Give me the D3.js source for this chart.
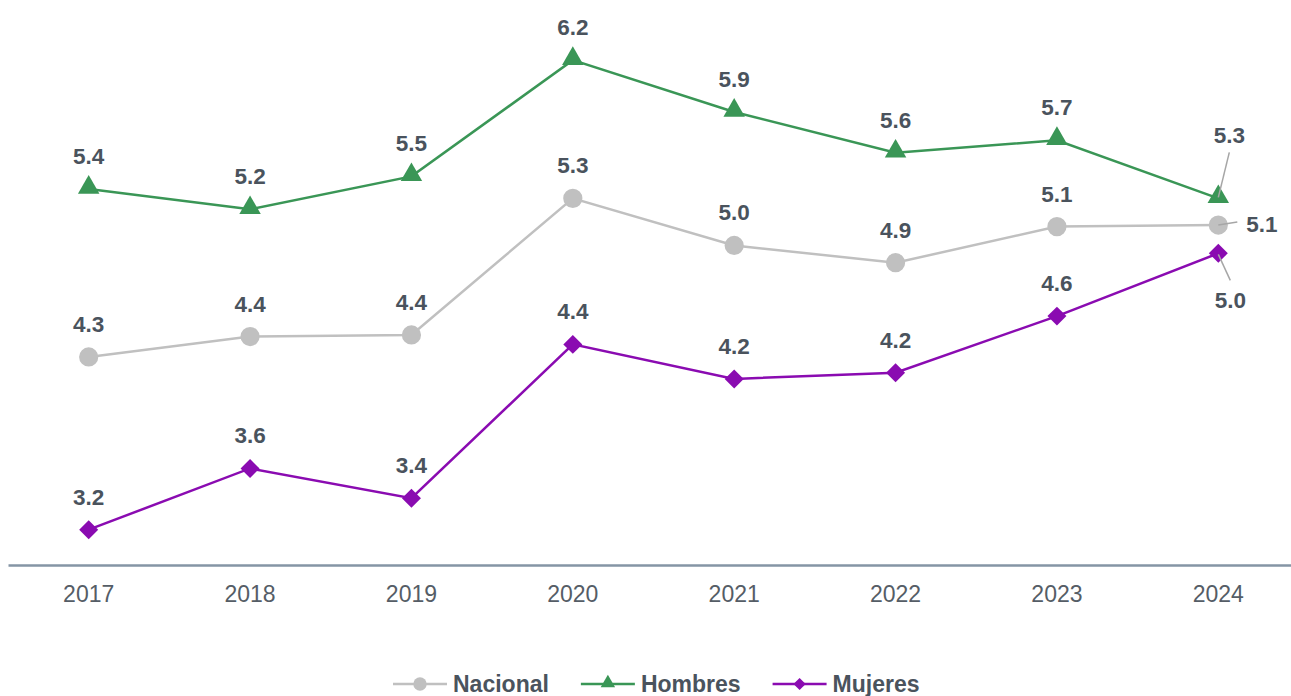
<!DOCTYPE html>
<html>
<head>
<meta charset="utf-8">
<script src="https://cdn.jsdelivr.net/npm/d3@7/dist/d3.min.js"></script>
<style>
	body { margin: 0; background: #fff; }
	svg { display: block; font-family: 'Liberation Sans', Arial, sans-serif; }
	.val-text { font-size: 22.5px; font-weight: bold; fill: #4a535d; }
	.year-axis text { font-size: 23px; fill: #555d66; }
	.year-axis path { stroke: #8595a5; stroke-width: 2.5px; }
	.legend-text { font-size: 23px; font-weight: bold; fill: #4a535d; }
	.leader { stroke: #a6a6a6; stroke-width: 1.5px; }
</style>
</head>
<body>
<div id="vis"></div>
<script>

var years = ['2017', '2018', '2019', '2020', '2021', '2022', '2023', '2024'];
var nacional = [4.30, 4.43, 4.44, 5.31, 5.01, 4.90, 5.13, 5.14];
var hombres = [5.37, 5.24, 5.45, 6.19, 5.86, 5.60, 5.68, 5.31];
var mujeres = [3.20, 3.59, 3.40, 4.38, 4.16, 4.20, 4.56, 4.96];
var seriesNames = ['Nacional', 'Hombres', 'Mujeres'];

var dim = { w: 1291, h: 696 };
var colors = { Nacional: '#c0c0c0', Hombres: '#3a9656', Mujeres: '#8a0bb1' };
// diamond = square turned 45 degrees
var shapes = { Nacional: d3.symbolCircle, Hombres: d3.symbolTriangle, Mujeres: d3.symbolSquare };
var rotate = { Nacional: 0, Hombres: 0, Mujeres: 45 };
var sizes = { Nacional: 290, Hombres: 200, Mujeres: 180 };
var legendSizes = { Nacional: 140, Hombres: 90, Mujeres: 75 };

// last point labels are pulled out with a leader line
var lastLabel = {
	Nacional: { x: 28, y: 7, anchor: 'start', lx1: 0, ly1: 0, lx2: 19, ly2: -3 },
	Hombres: { x: 11, y: -55, anchor: 'middle', lx1: 0, ly1: -1, lx2: 11, ly2: -46 },
	Mujeres: { x: 12, y: 55, anchor: 'middle', lx1: 0, ly1: 1, lx2: 12, ly2: 27 }
};

var series = [nacional, hombres, mujeres].map(function (vals, i) {
	return { name: seriesNames[i], values: vals.map(function (v, j) { return { year: years[j], v: v }; }) };
});

var svg = d3.select('#vis').append('svg')
	.attr('width', dim.w)
	.attr('height', dim.h);

var x = d3.scaleBand().domain(years).range([8, 1299]).padding(0);
var y = d3.scaleLinear().domain([2.975, 6.4]).range([565, 27.2]);
var cx = function (d) { return x(d.year) + x.bandwidth() / 2; };

//x axis
svg.append('g')
	.attr('class', 'year-axis')
	.attr('transform', 'translate(0,' + y(2.975) + ')')
	.call(d3.axisBottom(x).tickSize(0).tickSizeOuter(0).tickPadding(21))
	.call(function (g) { g.selectAll('text').attr('font-family', null).attr('font-size', null); });

var line = d3.line().x(cx).y(function (d) { return y(d.v); });

series.forEach(function (s) {
	svg.append('path')
		.datum(s.values)
		.attr('d', line)
		.attr('fill', 'none')
		.attr('stroke', colors[s.name])
		.attr('stroke-width', 2.5);
});

series.forEach(function (s) {
	var sym = d3.symbol().type(shapes[s.name]).size(sizes[s.name]);
	svg.selectAll('.dot-' + s.name)
		.data(s.values)
		.enter().append('path')
		.attr('class', 'dot-' + s.name)
		.attr('d', sym)
		.attr('fill', colors[s.name])
		.attr('transform', function (d) {
			// triangle centred on its box, not its centroid
			var dy = s.name === 'Hombres' ? -1.5 : 0;
			return 'translate(' + cx(d) + ',' + (y(d.v) + dy) + ') rotate(' + rotate[s.name] + ')';
		});
});

// value labels
series.forEach(function (s) {
	var n = s.values.length;
	s.values.forEach(function (d, i) {
		var px = cx(d), py = y(d.v);
		var text = svg.append('text')
			.attr('class', 'val-text')
			.text(d.v.toFixed(1));
		if (i < n - 1) {
			text.attr('x', px).attr('y', py - 25).attr('text-anchor', 'middle');
		} else {
			var o = lastLabel[s.name];
			text.attr('x', px + o.x).attr('y', py + o.y).attr('text-anchor', o.anchor);
			svg.append('line')
				.attr('class', 'leader')
				.attr('x1', px + o.lx1).attr('y1', py + o.ly1)
				.attr('x2', px + o.lx2).attr('y2', py + o.ly2);
		}
	});
});

//legend
var legend = svg.append('g').attr('transform', 'translate(0,684)');
var lx = 393;
seriesNames.forEach(function (name) {
	legend.append('line')
		.attr('x1', lx).attr('x2', lx + 54)
		.attr('y1', 0).attr('y2', 0)
		.attr('stroke', colors[name])
		.attr('stroke-width', 2.5);
	legend.append('path')
		.attr('d', d3.symbol().type(shapes[name]).size(legendSizes[name]))
		.attr('fill', colors[name])
		.attr('transform', 'translate(' + (lx + 27) + ',' + (name === 'Hombres' ? -1 : 0) + ') rotate(' + rotate[name] + ')');
	var t = legend.append('text')
		.attr('class', 'legend-text')
		.attr('x', lx + 60)
		.attr('y', 8)
		.text(name);
	lx = lx + 60 + t.node().getComputedTextLength() + 32;
});

</script>
</body>
</html>
